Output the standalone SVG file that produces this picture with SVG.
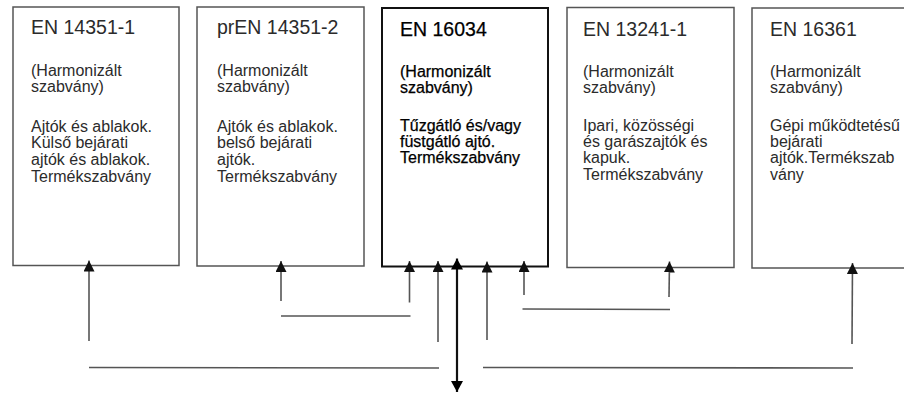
<svg xmlns="http://www.w3.org/2000/svg" width="904" height="393" viewBox="0 0 904 393">
<style>
  .box { fill: #fff; stroke: #555; stroke-width: 1.5; }
  .main { fill: #fff; stroke: #111; stroke-width: 2; }
  text { font-family: "Liberation Sans", Arial, sans-serif; fill: #2b2b2b; font-size: 16px; }
  .t { font-size: 19.5px; }
  .b text { fill: #000; stroke: #000; stroke-width: 0.25; }
  .c { stroke: #555; stroke-width: 1.6; fill: none; }
  .c2 { stroke: #111; stroke-width: 2.2; fill: none; }
</style>
<defs>
  <marker id="ah" viewBox="0 0 10 10" refX="10" refY="5" markerWidth="11" markerHeight="11" markerUnits="userSpaceOnUse" orient="auto" preserveAspectRatio="none">
    <path d="M0,0 L10,5 L0,10 z" fill="#111"/>
  </marker>
  <marker id="ah2" viewBox="0 0 10 10" refX="10" refY="5" markerWidth="11" markerHeight="12" markerUnits="userSpaceOnUse" orient="auto" preserveAspectRatio="none">
    <path d="M0,0 L10,5 L0,10 z" fill="#000"/>
  </marker>
</defs>
<rect width="904" height="393" fill="#fff"/>

<g id="n1">
  <rect class="box" x="13" y="7" width="166" height="258.5"/>
  <text class="t" x="31" y="34">EN 14351-1</text>
  <text x="31" y="76">(Harmonizált</text>
  <text x="31" y="92">szabvány)</text>
  <text x="31" y="131.5">Ajtók és ablakok.</text>
  <text x="31" y="148">Külső bejárati</text>
  <text x="31" y="165">ajtók és ablakok.</text>
  <text x="31" y="181.5">Termékszabvány</text>
</g>

<g id="n2">
  <rect class="box" x="197" y="7" width="167" height="259"/>
  <text class="t" x="217" y="34">prEN 14351-2</text>
  <text x="217" y="76">(Harmonizált</text>
  <text x="217" y="92">szabvány)</text>
  <text x="217" y="131.5">Ajtók és ablakok.</text>
  <text x="217" y="148">belső bejárati</text>
  <text x="217" y="165">ajtók.</text>
  <text x="217" y="181.5">Termékszabvány</text>
</g>

<g id="n3" class="b">
  <rect class="main" x="382" y="8" width="166" height="258.5"/>
  <text class="t" x="400" y="35.5">EN 16034</text>
  <text x="400" y="77">(Harmonizált</text>
  <text x="400" y="92.5">szabvány)</text>
  <text x="400" y="131">Tűzgátló és/vagy</text>
  <text x="400" y="147">füstgátló ajtó.</text>
  <text x="400" y="163">Termékszabvány</text>
</g>

<g id="n4">
  <rect class="box" x="567" y="7.5" width="167" height="260"/>
  <text class="t" x="583" y="35.5">EN 13241-1</text>
  <text x="583" y="77">(Harmonizált</text>
  <text x="583" y="92.5">szabvány)</text>
  <text x="583" y="131">Ipari, közösségi</text>
  <text x="583" y="147">és garászajtók és</text>
  <text x="583" y="163">kapuk.</text>
  <text x="583" y="180">Termékszabvány</text>
</g>

<g id="n5">
  <path class="box" d="M906,8 H752 V268 H906"/>
  <text class="t" x="770" y="35.5">EN 16361</text>
  <text x="770" y="77">(Harmonizált</text>
  <text x="770" y="92.5">szabvány)</text>
  <text x="770" y="131">Gépi működtetésű</text>
  <text x="770" y="147">bejárati</text>
  <text x="770" y="163">ajtók.Termékszab</text>
  <text x="770" y="180">vány</text>
</g>

<g id="connectors">
  <line class="c" x1="89" y1="341" x2="89" y2="260.5" marker-end="url(#ah)"/>
  <line class="c" x1="281" y1="301" x2="281" y2="261" marker-end="url(#ah)"/>
  <line class="c" x1="409.5" y1="302.5" x2="409.5" y2="261" marker-end="url(#ah)"/>
  <line class="c" x1="438" y1="342" x2="438" y2="261" marker-end="url(#ah)"/>
  <line class="c" x1="487" y1="340" x2="487" y2="261.5" marker-end="url(#ah)"/>
  <line class="c" x1="524" y1="295" x2="524" y2="261" marker-end="url(#ah)"/>
  <line class="c" x1="669" y1="297" x2="669.5" y2="261.5" marker-end="url(#ah)"/>
  <line class="c" x1="852" y1="344" x2="852.5" y2="263" marker-end="url(#ah)"/>

  <line class="c" x1="281" y1="316" x2="410.5" y2="316"/>
  <line class="c" x1="89" y1="367.5" x2="439" y2="368"/>
  <line class="c" x1="522.5" y1="309" x2="670" y2="309.5"/>
  <line class="c" x1="483" y1="367.5" x2="853" y2="368"/>

  <line class="c2" x1="457" y1="320" x2="457" y2="258.5" marker-end="url(#ah2)"/>
  <line class="c2" x1="457" y1="320" x2="457" y2="392" marker-end="url(#ah2)"/>
</g>
</svg>
